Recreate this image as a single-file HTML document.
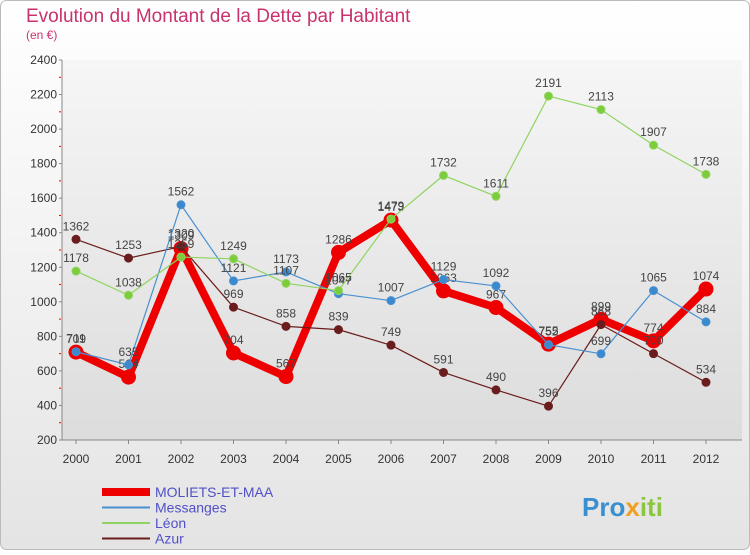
<!DOCTYPE html>
<html><head><meta charset="utf-8"><style>
body{margin:0;width:750px;height:550px;overflow:hidden;font-family:"Liberation Sans",sans-serif;}
</style></head><body>
<svg id="c" width="750" height="550" xmlns="http://www.w3.org/2000/svg">
<defs>
<linearGradient id="bg" x1="0" y1="0" x2="0" y2="1"><stop offset="0" stop-color="#ffffff"/><stop offset="1" stop-color="#e4e4e4"/></linearGradient>
<linearGradient id="pg" x1="0" y1="0" x2="0" y2="1"><stop offset="0" stop-color="#f6f6f6"/><stop offset="1" stop-color="#dcdcdc"/></linearGradient>
</defs>
<rect x="0.5" y="0.5" width="749" height="549" rx="6" fill="url(#bg)" stroke="#bbb"/>
<rect x="62" y="60" width="680" height="380" fill="url(#pg)"/>
<text x="26" y="22" font-size="19" fill="#c8326e">Evolution du Montant de la Dette par Habitant</text>
<text x="26" y="39" font-size="12" fill="#c8326e">(en €)</text>
<g id="axes"></g>
<g id="series"></g>
<g id="legend"></g>
<text x="582" y="516" font-size="26" font-weight="bold" fill="#3a8fd0">Pro<tspan fill="#f0a020">x</tspan><tspan fill="#8cc63e">iti</tspan></text>
</svg>
<script>
const years=[2000,2001,2002,2003,2004,2005,2006,2007,2008,2009,2010,2011,2012];
const yTicks=[200,400,600,800,1000,1200,1400,1600,1800,2000,2200,2400];
const moliets=[709,564,1309,704,567,1286,1473,1063,967,755,899,774,1074];
const messanges=[711,635,1562,1121,1173,1047,1007,1129,1092,752,699,1065,884];
const leon=[1178,1038,1259,1249,1107,1065,1479,1732,1611,2191,2113,1907,1738];
const azur=[1362,1253,1320,969,858,839,749,591,490,396,868,700,534];
const NS='http://www.w3.org/2000/svg';
const X=i=>76+i*52.5;
const Y=v=>440-(v-200)*380/2200;
function mk(p,t,a){const e=document.createElementNS(NS,t);for(const k in a)e.setAttribute(k,a[k]);p.appendChild(e);return e;}
const ax=document.getElementById('axes');
let l=mk(ax,'line',{x1:62,y1:60,x2:62,y2:440,stroke:'#888'});

l=mk(ax,'line',{x1:62,y1:440,x2:742,y2:440,stroke:'#888'});

yTicks.forEach((v,k)=>{const t=mk(ax,'text',{x:57,y:Y(v)+4,'text-anchor':'end','font-size':12,fill:'#333'});t.textContent=v;

mk(ax,'line',{x1:59,y1:Y(v),x2:62,y2:Y(v),stroke:'#888'});
if(k<yTicks.length-1)mk(ax,'line',{x1:59,y1:Y((v+yTicks[k+1])/2),x2:61,y2:Y((v+yTicks[k+1])/2),stroke:'#e00'});});
years.forEach((yr,i)=>{const t=mk(ax,'text',{x:X(i),y:463,'text-anchor':'middle','font-size':12,fill:'#333'});t.textContent=yr;

mk(ax,'line',{x1:X(i),y1:440,x2:X(i),y2:444,stroke:'#888'});});
const sg=document.getElementById('series');
function series(name,data,color,w,r,dot){
 const g=mk(sg,'g',{});
 const pl=mk(g,'polyline',{points:data.map((v,i)=>X(i)+','+Y(v)).join(' '),fill:'none',stroke:color,'stroke-width':w,'stroke-linejoin':'round'});
 
 data.forEach((v,i)=>{const c=mk(g,'circle',{cx:X(i),cy:Y(v),r:r,fill:dot,stroke:color,'stroke-width':1});
  
  const t=mk(g,'text',{x:X(i),y:Y(v)-9,'text-anchor':'middle','font-size':12,fill:'#444'});t.textContent=v;
  });
}
series('moliets',moliets,'#ee0000',8,7,'#ee0000');
series('azur',azur,'#6b1d1d',1.2,4,'#6b1d1d');
series('messanges',messanges,'#4a90d0',1.2,4,'#3a8ad0');
series('leon',leon,'#8fd460',1.2,4,'#7ccc3c');
const lg=document.getElementById('legend');
[['MOLIETS-ET-MAA','#ee0000',8],['Messanges','#4a90d0',2],['Léon','#8fd460',2],['Azur','#6b1d1d',2]].forEach((s,i)=>{
 const y=492+i*15.5;
 const ln=mk(lg,'line',{x1:102,y1:y,x2:150,y2:y,stroke:s[1],'stroke-width':s[2]});
 
 const t=mk(lg,'text',{x:155,y:y+5,'font-size':14,fill:'#5050c8'});t.textContent=s[0];
 
});
</script>
</body></html>
